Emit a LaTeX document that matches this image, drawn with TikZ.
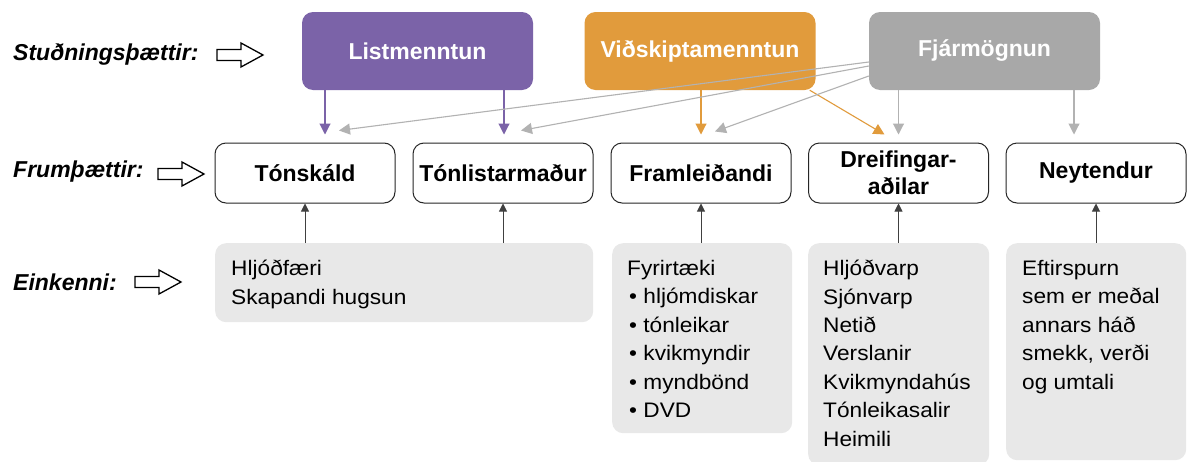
\documentclass[tikz,border=0pt]{standalone}
\usepackage{fontspec}
\setmainfont{Liberation Sans}
\newfontfamily\widesans[FakeStretch=1.08]{Liberation Sans}
\usetikzlibrary{arrows.meta,calc}
\definecolor{lmpurple}{HTML}{7B63A8}
\definecolor{vorange}{HTML}{E19B3C}
\definecolor{fgrey}{HTML}{A8A8A8}
\definecolor{lgrey}{HTML}{B2B2B2}
\definecolor{boxgrey}{HTML}{E8E8E8}
\begin{document}
\begin{tikzpicture}[x=1pt,y=-1pt,
  topbox/.style={rounded corners=11pt, minimum width=231pt, minimum height=78pt, text=white, inner sep=0pt,
    font=\bfseries\fontsize{23}{27}\selectfont},
  midbox/.style={draw=black!85, rounded corners=11pt, minimum width=180pt, minimum height=60pt, inner sep=0pt,
    line width=1pt, align=center, font=\bfseries\fontsize{23}{27}\selectfont},
  greybox/.style={fill=boxgrey, rounded corners=11pt, anchor=north west, inner sep=0pt},
  greytext/.style={anchor=north west, inner sep=0pt, align=left, font=\widesans\fontsize{21}{28.4}\selectfont},
  sidelabel/.style={anchor=west, inner sep=0pt, font=\bfseries\itshape\fontsize{23}{27}\selectfont},
  hollow/.style={draw, line width=1.3pt, fill=white},
  blk/.style={draw=black!75, line width=0.9pt, -{Triangle[length=8pt,width=8pt]}},
  purarr/.style={draw=lmpurple, line width=1.1pt, -{Triangle[length=11pt,width=11pt]}},
  orarr/.style={draw=vorange, line width=1.1pt, -{Triangle[length=11pt,width=11pt]}},
  grarr/.style={draw=lgrey, line width=1.1pt, -{Triangle[length=11pt,width=11pt]}}
]
\useasboundingbox (0,0) rectangle (1189,461);
\fill[white] (0,0) rectangle (1189,461);

% side labels
\node[sidelabel] (l1) at (13,54) {Stuðningsþættir:};
\node[sidelabel] (l2) at (13,172) {Frumþættir:};
\node[sidelabel] (l3) at (13,282) {Einkenni:};
\foreach \x/\y in {217/55, 158/174, 135/282}{
  \draw[hollow] (\x,\y-5.5) -- (\x+24,\y-5.5) -- (\x+24,\y-12) -- (\x+46,\y) -- (\x+24,\y+12) -- (\x+24,\y+5.5) -- (\x,\y+5.5) -- cycle;
}

% top boxes
\node[topbox, fill=lmpurple] (lm) at (417.5,51) {Listmenntun};
\node[topbox, fill=vorange] (vm) at (700,51) {Viðskiptamenntun};
\node[topbox, fill=fgrey] (fj) at (984.5,51) {Fjármögnun};

% mid boxes
\node[midbox] (t1) at (305,173) {Tónskáld};
\node[midbox] (t2) at (503,173) {Tónlistarmaður};
\node[midbox] (t3) at (701,173) {Framleiðandi};
\node[midbox] (t4) at (898.5,173) {Dreifingar-\\aðilar};
\node[midbox] (t5) at (1096,173) {Neytendur};

% grey boxes
\node[greybox, minimum width=378pt, minimum height=79pt] (g1) at (215,243) {};
\node[greybox, minimum width=180pt, minimum height=190pt] (g2) at (612,243) {};
\node[greybox, minimum width=181pt, minimum height=222pt] (g3) at (808,243) {};
\node[greybox, minimum width=180pt, minimum height=217pt] (g4) at (1006,243) {};

\node[greytext] (x1) at ($(g1.north west)+(16,17)$) {Hljóðfæri\\Skapandi hugsun};
\node[greytext] (x2) at ($(g2.north west)+(15,17)$) {Fyrirtæki\\\hspace{2pt}• hljómdiskar\\\hspace{2pt}• tónleikar\\\hspace{2pt}• kvikmyndir\\\hspace{2pt}• myndbönd\\\hspace{2pt}• DVD};
\node[greytext] (x3) at ($(g3.north west)+(15,17)$) {Hljóðvarp\\Sjónvarp\\Netið\\Verslanir\\Kvikmyndahús\\Tónleikasalir\\Heimili};
\node[greytext] (x4) at ($(g4.north west)+(16,17)$) {Eftirspurn\\sem er meðal\\annars háð\\smekk, verði\\og umtali};

% black arrows up
\draw[blk] (g1.north -| t1.south) -- (t1.south);
\draw[blk] (g1.north -| t2.south) -- (t2.south);
\draw[blk] (g2.north -| t3.south) -- (t3.south);
\draw[blk] (g3.north -| t4.south) -- (t4.south);
\draw[blk] (g4.north -| t5.south) -- (t5.south);

% purple arrows
\draw[purarr] ([xshift=20pt]t1.north |- lm.south) -- ([xshift=20pt,yshift=8pt]t1.north);
\draw[purarr] ([xshift=1pt]t2.north |- lm.south) -- ([xshift=1pt,yshift=8pt]t2.north);

% orange arrows
\draw[orarr] ([xshift=0pt]t3.north |- vm.south) -- ([xshift=0pt,yshift=8pt]t3.north);
\draw[orarr] ([xshift=-6pt]vm.south east) -- ([xshift=-14pt,yshift=8pt]t4.north);

% grey arrows
\draw[grarr] ([yshift=-11pt]fj.west) -- ([xshift=34pt,yshift=12pt]t1.north);
\draw[grarr] ([yshift=-15pt]fj.west) -- ([xshift=18pt,yshift=12pt]t2.north);
\draw[grarr] ([yshift=-25pt]fj.west) -- ([xshift=14pt,yshift=11pt]t3.north);
\draw[grarr] ([xshift=0pt]t4.north |- fj.south) -- ([xshift=0pt,yshift=8pt]t4.north);
\draw[grarr] ([xshift=-22pt]t5.north |- fj.south) -- ([xshift=-22pt,yshift=8pt]t5.north);
\end{tikzpicture}
\end{document}
